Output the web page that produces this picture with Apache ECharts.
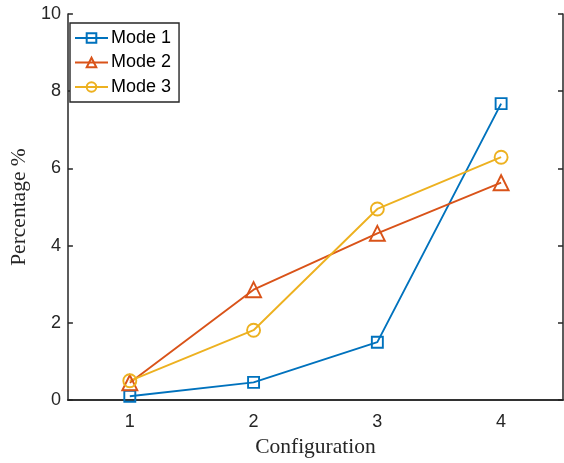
<!DOCTYPE html>
<html>
<head>
<meta charset="utf-8">
<script src="https://cdn.jsdelivr.net/npm/echarts@6/dist/echarts.min.js"></script>
<style>html,body{margin:0;padding:0;background:#fff;overflow:hidden}#c{width:564px;height:463px}</style>
</head>
<body>
<div id="c"></div>
<script>
var categories = ['1', '2', '3', '4'];
var mode1 = [0.1, 0.46, 1.5, 7.68];
var mode2 = [0.45, 2.86, 4.32, 5.63];
var mode3 = [0.5, 1.81, 4.95, 6.29];
var yTicks = [0, 2, 4, 6, 8, 10];

var axisColor = '#262626';
var chart = echarts.init(document.getElementById('c'));
function mk(name, data, color, symbol, size) {
  return {
    name: name, type: 'line', data: data, symbol: symbol, symbolSize: size,
    xAxisIndex: 0, yAxisIndex: 0,
    lineStyle: {color: color, width: 1.9},
    itemStyle: {color: 'rgba(255,255,255,0)', borderColor: color, borderWidth: 1.9},
    emphasis: {disabled: true}, animation: false
  };
}
chart.setOption({
  animation: false,
  grid: {left: 62, width: 501, top: 14, height: 396, containLabel: false},
  legend: {
    left: 70, top: 23, orient: 'vertical',
    backgroundColor: '#fff', borderColor: axisColor, borderWidth: 1.4,
    padding: [6, 8, 6, 4], itemGap: 6.5, itemWidth: 33, itemHeight: 12,
    textStyle: {fontFamily: 'Liberation Sans', fontSize: 18, color: '#000', padding: [0,0,0,-2]},
    data: ['Mode 1', 'Mode 2', 'Mode 3']
  },
  xAxis: [{
    type: 'category', data: categories, boundaryGap: true, position: 'bottom',
    name: 'Configuration', nameLocation: 'middle', nameGap: 28,
    nameTextStyle: {fontFamily: 'Liberation Serif', fontSize: 21.5, color: axisColor},
    axisLine: {lineStyle: {color: axisColor, width: 1.5}},
    axisTick: {inside: true, alignWithLabel: true, length: 5, lineStyle: {color: axisColor, width: 1.5}},
    axisLabel: {fontFamily: 'Liberation Sans', fontSize: 18, color: axisColor, margin: 13},
    splitLine: {show: false}
  }, {
    type: 'category', data: categories, boundaryGap: true, position: 'top',
    axisLine: {lineStyle: {color: axisColor, width: 1.5}},
    axisTick: {inside: true, alignWithLabel: true, length: 5, lineStyle: {color: axisColor, width: 1.5}},
    axisLabel: {show: false}, splitLine: {show: false}
  }],
  yAxis: [{
    type: 'value', min: 0, max: 10, interval: 2, position: 'left',
    name: 'Percentage %', nameLocation: 'middle', nameGap: 33, nameRotate: 90,
    nameTextStyle: {fontFamily: 'Liberation Serif', fontSize: 21.5, color: axisColor},
    axisLine: {show: true, lineStyle: {color: axisColor, width: 1.5}},
    axisTick: {show: true, inside: true, length: 5, lineStyle: {color: axisColor, width: 1.5}},
    axisLabel: {fontFamily: 'Liberation Sans', fontSize: 18, color: axisColor, margin: 7,
      formatter: function (v) { return yTicks.indexOf(v) >= 0 ? String(v) : ''; }},
    splitLine: {show: false}
  }, {
    type: 'value', min: 0, max: 10, interval: 2, position: 'right',
    axisLine: {show: true, lineStyle: {color: axisColor, width: 1.5}},
    axisTick: {show: true, inside: true, length: 5, lineStyle: {color: axisColor, width: 1.5}},
    axisLabel: {show: false}, splitLine: {show: false}
  }],
  series: [
    mk('Mode 1', mode1, '#0072BD', 'rect', 11),
    mk('Mode 2', mode2, '#D95319', 'triangle', 15),
    mk('Mode 3', mode3, '#EDB120', 'circle', 13)
  ]
});
</script>
</body>
</html>
